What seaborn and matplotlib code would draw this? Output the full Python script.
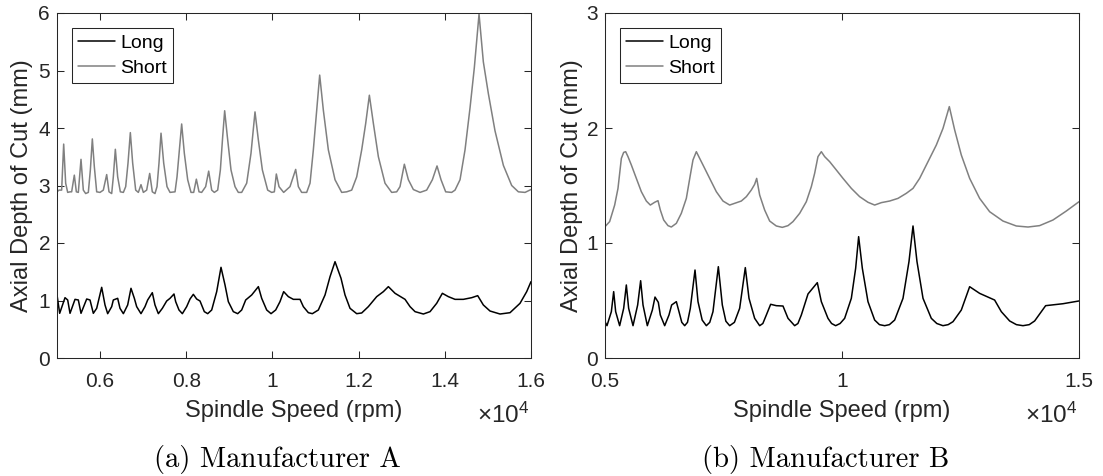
import matplotlib
matplotlib.use('Agg')
import matplotlib.pyplot as plt
import seaborn as sns

# ---------------- data (rpm, axial depth in mm) ----------------
a_long_rpm = [5000, 5062, 5186, 5248, 5302, 5418, 5495, 5557, 5689, 5766, 5843, 5921, 6037, 6114, 6176,
              6269, 6307, 6408, 6462, 6540, 6640, 6717, 6795, 6849, 6949, 7042, 7104, 7212, 7274, 7352,
              7445, 7545, 7623, 7715, 7754, 7831, 7909, 8009, 8087, 8164, 8241, 8319, 8419, 8497, 8590,
              8706, 8806, 8899, 8976, 9092, 9193, 9286, 9379, 9518, 9673, 9750, 9866, 9967, 10075, 10175,
              10260, 10369, 10485, 10640, 10717, 10833, 10926, 11065, 11220, 11336, 11452, 11591, 11684,
              11800, 11955, 12071, 12225, 12419, 12574, 12690, 12845, 13077, 13193, 13309, 13502, 13657,
              13811, 13943, 14082, 14237, 14430, 14624, 14763, 14894, 15049, 15281, 15513, 15745, 15900, 16000]
a_long_depth = [1.096, 0.777, 1.049, 1.009, 0.777, 1.020, 1.009, 0.777, 1.026, 1.009, 0.777, 0.864, 1.229, 0.922, 0.771,
                0.893, 1.009, 1.038, 0.864, 0.771, 0.922, 1.212, 1.038, 0.893, 0.771, 0.893, 1.009, 1.136, 0.922, 0.771,
                0.864, 0.991, 1.038, 1.113, 0.980, 0.835, 0.771, 0.893, 1.026, 1.107, 1.026, 0.991, 0.806, 0.771, 0.835,
                1.154, 1.577, 1.270, 0.980, 0.806, 0.771, 0.835, 1.009, 1.096, 1.241, 1.038, 0.835, 0.771, 0.835, 0.980,
                1.154, 1.067, 1.020, 1.020, 0.893, 0.788, 0.771, 0.835, 1.096, 1.414, 1.675, 1.386, 1.096,
                0.864, 0.771, 0.783, 0.893, 1.067, 1.154, 1.241, 1.125, 1.020, 0.893, 0.806, 0.765, 0.806,
                0.951, 1.125, 1.067, 1.020, 1.020, 1.049, 1.084, 0.922, 0.817, 0.765, 0.788, 0.951, 1.154, 1.328]

a_short_rpm = [5000, 5046, 5108, 5155, 5201, 5248, 5302, 5340, 5402, 5449, 5495, 5557, 5611, 5665, 5727,
               5774, 5820, 5866, 5921, 5998, 6075, 6153, 6207, 6269, 6307, 6354, 6408, 6470, 6540, 6594,
               6648, 6702, 6756, 6826, 6888, 6949, 7004, 7081, 7151, 7212, 7274, 7321, 7367, 7414, 7476,
               7553, 7623, 7739, 7785, 7839, 7893, 7955, 8033, 8110, 8172, 8234, 8296, 8357, 8450, 8520,
               8590, 8651, 8729, 8791, 8845, 8891, 8953, 9038, 9131, 9208, 9286, 9402, 9502, 9595, 9673,
               9766, 9889, 9982, 10044, 10090, 10152, 10260, 10407, 10539, 10601, 10678, 10794, 10872, 10949,
               11026, 11096, 11181, 11297, 11452, 11607, 11723, 11839, 11955, 12071, 12164, 12249, 12342,
               12458, 12612, 12767, 12883, 12960, 13061, 13154, 13270, 13425, 13579, 13711, 13819, 13912,
               14020, 14159, 14237, 14353, 14469, 14585, 14685, 14794, 14894, 15010, 15165, 15359, 15552,
               15707, 15862, 16000]
a_short_depth = [2.89, 2.92, 2.92, 3.72, 3.04, 2.88, 2.89, 2.89, 3.18, 2.89, 2.88, 3.455, 2.92, 2.86, 2.88,
                 3.27, 3.81, 3.33, 2.89, 2.88, 2.92, 3.19, 2.89, 2.86, 3.15, 3.63, 3.15, 2.89, 2.88, 2.98,
                 3.39, 3.92, 3.39, 2.92, 2.88, 3.015, 2.88, 2.92, 3.21, 2.89, 2.86, 2.98, 3.39, 3.91, 3.39,
                 2.98, 2.88, 2.89, 3.15, 3.62, 4.07, 3.56, 3.10, 2.88, 2.88, 3.11, 2.89, 2.88, 2.98, 3.25,
                 2.92, 2.88, 2.92, 3.27, 3.85, 4.30, 3.85, 3.27, 2.98, 2.88, 2.88, 3.04, 3.56, 4.28, 3.79,
                 3.27, 2.92, 2.88, 2.89, 3.20, 2.98, 2.88, 2.98, 3.28, 2.98, 2.88, 2.88, 3.04, 3.62,
                 4.31, 4.92, 4.31, 3.62, 3.10, 2.88, 2.89, 2.92, 3.15, 3.62, 4.08, 4.57, 4.08,
                 3.50, 3.04, 2.88, 2.89, 2.98, 3.37, 3.10, 2.93, 2.88, 2.92, 3.10, 3.34, 3.10,
                 2.89, 2.88, 2.92, 3.10, 3.62, 4.35, 5.05, 5.98, 5.15, 4.60, 3.95, 3.35, 3.00,
                 2.89, 2.88, 2.93]

b_long_rpm = [5000, 5042, 5134, 5183, 5225, 5309, 5394, 5450, 5499, 5591, 5689, 5752, 5802, 5893, 5999,
              6055, 6125, 6167, 6259, 6350, 6406, 6505, 6561, 6620, 6681, 6740, 6800, 6899, 6962, 7050,
              7138, 7210, 7278, 7391, 7475, 7550, 7630, 7730, 7841, 7960, 8038, 8157, 8263, 8330, 8404,
              8495, 8614, 8755, 8861, 9001, 9070, 9142, 9283, 9479, 9564, 9704, 9780, 9866, 9960, 10056,
              10197, 10288, 10351, 10429, 10548, 10689, 10790, 10900, 11000, 11111, 11287, 11413, 11498,
              11582, 11709, 11884, 12000, 12130, 12240, 12342, 12517, 12693, 12904, 13220, 13361, 13537,
              13680, 13818, 13950, 14064, 14296, 14662, 15000]
b_long_depth = [0.316, 0.281, 0.403, 0.577, 0.403, 0.281, 0.432, 0.635, 0.432, 0.281, 0.461, 0.672, 0.461, 0.281, 0.417,
                0.530, 0.484, 0.374, 0.281, 0.374, 0.461, 0.490, 0.403, 0.310, 0.281, 0.310, 0.432, 0.765, 0.490, 0.330,
                0.281, 0.310, 0.403, 0.794, 0.461, 0.320, 0.281, 0.310, 0.432, 0.786, 0.519, 0.345, 0.281, 0.300, 0.374,
                0.467, 0.455, 0.452, 0.345, 0.281, 0.300, 0.374, 0.557, 0.655, 0.490, 0.345, 0.300, 0.281, 0.300, 0.345,
                0.519, 0.780, 1.055, 0.780, 0.490, 0.330, 0.290, 0.281, 0.290, 0.330, 0.519, 0.838, 1.148,
                0.838, 0.519, 0.345, 0.300, 0.281, 0.290, 0.316, 0.417, 0.620, 0.562, 0.504, 0.403, 0.322,
                0.290, 0.281, 0.290, 0.322, 0.455, 0.472, 0.496]

b_short_rpm = [5000, 5098, 5204, 5274, 5345, 5394, 5436, 5485, 5556, 5661, 5767, 5872, 5956, 6048, 6118,
               6167, 6238, 6329, 6399, 6505, 6610, 6716, 6800, 6856, 6927, 6997, 7103, 7208, 7349, 7489,
               7630, 7735, 7876, 7982, 8087, 8157, 8200, 8263, 8368, 8474, 8614, 8741, 8861, 8966, 9107,
               9247, 9353, 9423, 9493, 9564, 9634, 9740, 9880, 10021, 10197, 10372, 10548, 10689, 10830,
               11005, 11181, 11357, 11498, 11638, 11814, 11990, 12131, 12264, 12377, 12517, 12693, 12904,
               13115, 13396, 13677, 13924, 14169, 14451, 14732, 15000]
b_short_depth = [1.142, 1.186, 1.330, 1.475, 1.736, 1.788, 1.794, 1.751, 1.678, 1.562, 1.446, 1.365, 1.330, 1.354, 1.368,
                 1.287, 1.200, 1.151, 1.139, 1.171, 1.258, 1.388, 1.591, 1.722, 1.794, 1.736, 1.649, 1.562, 1.446, 1.365,
                 1.330, 1.345, 1.365, 1.403, 1.461, 1.510, 1.562, 1.417, 1.287, 1.191, 1.148, 1.136, 1.151, 1.186, 1.258,
                 1.359, 1.490, 1.606, 1.751, 1.794, 1.751, 1.707, 1.635, 1.562, 1.475, 1.403, 1.354, 1.330, 1.351,
                 1.365, 1.388, 1.432, 1.475, 1.562, 1.707, 1.852, 1.997, 2.186, 1.983, 1.765, 1.562, 1.388,
                 1.272, 1.191, 1.148, 1.139, 1.151, 1.200, 1.278, 1.359]

series_labels = ["Long", "Short"]
a_xticks = [6000, 8000, 10000, 12000, 14000, 16000]
a_xticklabels = ["0.6", "0.8", "1", "1.2", "1.4", "1.6"]
b_xticks = [5000, 10000, 15000]
b_xticklabels = ["0.5", "1", "1.5"]
a_yticks = [0, 1, 2, 3, 4, 5, 6]
b_yticks = [0, 1, 2, 3]
captions = ["(a) Manufacturer A", "(b) Manufacturer B"]
xlabel = "Spindle Speed (rpm)"
ylabel = "Axial Depth of Cut (mm)"

# ---------------- style ----------------
sns.set_theme(style="ticks")
plt.rcParams['font.family'] = ['Liberation Sans', 'DejaVu Sans']
plt.rcParams['mathtext.fontset'] = 'custom'
plt.rcParams['mathtext.rm'] = 'Liberation Sans'
plt.rcParams['mathtext.it'] = 'Liberation Sans:italic'

DARK = '#262626'
LONG_C = '#000000'
SHORT_C = '#808080'

fig = plt.figure(figsize=(11.03, 4.76), dpi=100)
axA = fig.add_axes([57 / 1103, 118 / 476, 474 / 1103, 345 / 476])
axB = fig.add_axes([605 / 1103, 118 / 476, 474 / 1103, 345 / 476])

panels = [
    (axA, a_long_rpm, a_long_depth, a_short_rpm, a_short_depth, (5000, 16000), (0, 6),
     a_xticks, a_xticklabels, a_yticks, -0.0506),
    (axB, b_long_rpm, b_long_depth, b_short_rpm, b_short_depth, (5000, 15000), (0, 3),
     b_xticks, b_xticklabels, b_yticks, -0.046),
]

for ax, lx, ly, sx, sy, xl, yl, xt, xtl, yt, ylx in panels:
    sns.lineplot(x=lx, y=ly, ax=ax, color=LONG_C, linewidth=1.1, estimator=None, sort=False,
                 label=series_labels[0])
    sns.lineplot(x=sx, y=sy, ax=ax, color=SHORT_C, linewidth=1.1, estimator=None, sort=False,
                 label=series_labels[1])
    ax.set_xlim(*xl)
    ax.set_ylim(*yl)
    ax.set_xticks(xt)
    ax.set_xticklabels(xtl)
    ax.set_yticks(yt)
    ax.set_yticklabels([str(v) for v in yt])
    ax.tick_params(direction='in', length=5, width=0.75, top=True, right=True,
                   labelsize=15, colors=DARK, labelcolor=DARK)
    ax.tick_params(axis='x', pad=10)
    ax.tick_params(axis='y', pad=5)
    for s in ax.spines.values():
        s.set_visible(True)
        s.set_color(DARK)
        s.set_linewidth(0.75)
    ax.set_xlabel(xlabel, fontsize=17, color=DARK)
    ax.set_ylabel(ylabel, fontsize=17, color=DARK)
    ax.xaxis.set_label_coords(0.5, -0.122)
    ax.yaxis.set_label_coords(ylx, 0.5)
    ax.text(0.997, -0.165, r'$\times\mathregular{10^{4}}$', transform=ax.transAxes,
            ha='right', va='center', fontsize=17.5, color=DARK)
    leg = ax.legend(loc='upper left', bbox_to_anchor=(0.0316, 0.9565), borderaxespad=0,
                    frameon=True, fancybox=False, edgecolor=DARK, facecolor='white', framealpha=1,
                    fontsize=14, handlelength=1.9, handletextpad=0.25, borderpad=0.32,
                    labelspacing=0.4)
    leg.get_frame().set_linewidth(0.75)
    for t in leg.get_texts():
        t.set_color('black')

fig.text(277 / 1103, 9 / 476, captions[0], family='cmr10', fontsize=20.6,
         ha='center', va='baseline', color='black')
fig.text(826 / 1103, 9 / 476, captions[1], family='cmr10', fontsize=20.6,
         ha='center', va='baseline', color='black')

fig.savefig('out.png', dpi=100)
